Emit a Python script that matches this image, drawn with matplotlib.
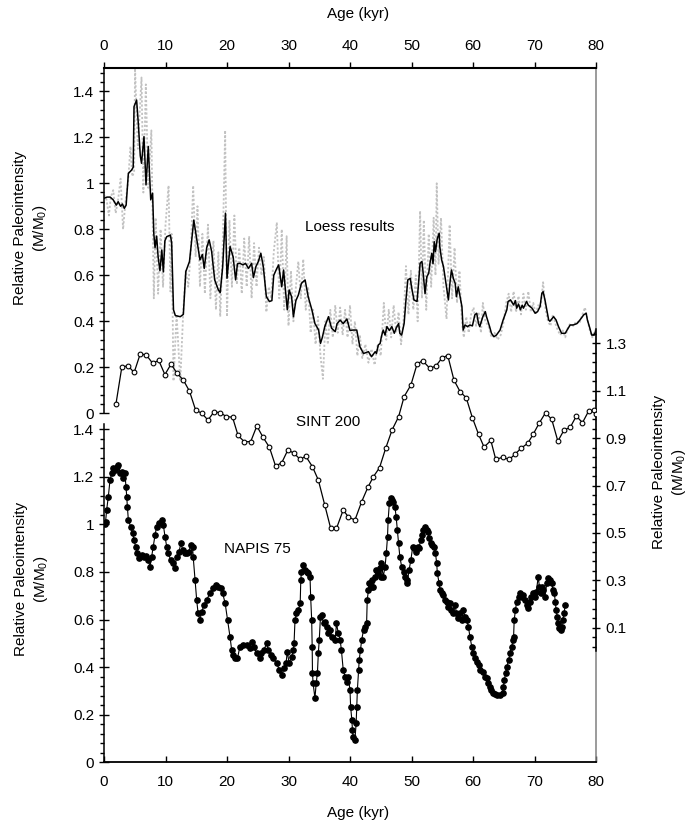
import numpy as np
import matplotlib
matplotlib.use("Agg")
import matplotlib.pyplot as plt
from matplotlib.ticker import FixedLocator, FuncFormatter

plt.rcParams["font.family"] = ["Liberation Sans", "DejaVu Sans"]
plt.rcParams["mathtext.default"] = "regular"

# --- Loess results (smoothed, black line) ---
loess_age = [0.0, 0.5, 1.0, 1.5, 2.0, 2.3, 2.7, 3.0, 3.3, 3.6, 3.96, 4.5, 4.75, 4.88, 5.3, 5.58,
             5.9, 6.1, 6.5, 6.83, 7.2, 7.6, 7.9, 8.1, 8.3, 8.56, 8.8, 9.1, 9.4, 9.65, 9.9, 10.2,
             10.8, 11.0, 11.3, 11.6, 12.4, 12.9, 13.3, 13.9, 14.6, 15.1, 15.6, 16.0, 16.3, 16.7,
             17.1, 17.5, 18.0, 18.6, 18.9, 19.3, 19.75, 20.0, 20.5, 21.0, 21.4, 21.7, 22.1, 22.6,
             23.0, 23.5, 24.0, 24.3, 24.7, 25.1, 25.5, 25.9, 26.4, 26.9, 27.3, 27.6, 28.1, 28.4,
             28.9, 29.2, 29.6, 29.8, 30.1, 30.5, 30.8, 31.2, 31.6, 32.1, 32.7, 33.2, 33.8, 34.3,
             34.9, 35.2, 35.5, 35.9, 36.5, 37.0, 37.6, 37.9, 38.4, 38.9, 39.5, 40.0, 40.5, 41.1,
             41.4, 41.6, 42.2, 43.0, 43.5, 44.1, 44.3, 44.6, 44.9, 45.1, 45.4, 45.7, 46.0, 46.4,
             46.8, 47.2, 47.5, 47.9, 48.1, 48.4, 48.8, 49.1, 49.4, 49.8, 50.0, 50.4, 50.9, 51.1,
             51.4, 51.7, 51.9, 52.2, 52.5, 52.8, 53.0, 53.3, 53.5, 53.7, 53.9, 54.2, 54.5, 54.6,
             54.9, 55.2, 55.6, 56.0, 56.3, 56.5, 56.8, 57.1, 57.3, 57.6, 57.9, 58.2, 58.4, 58.7,
             59.1, 59.5, 59.9, 60.3, 60.6, 60.9, 61.1, 61.6, 62.0, 62.2, 62.7, 63.0, 63.4, 63.8,
             64.4, 64.9, 65.5, 65.7, 66.1, 66.6, 66.9, 67.1, 67.4, 67.7, 68.0, 68.2, 68.5, 68.7,
             69.0, 69.6, 70.1, 70.5, 70.9, 71.2, 71.4, 71.7, 72.0, 72.3, 72.5, 73.1, 73.5, 73.9,
             74.4, 75.0, 75.3, 75.8, 76.3, 76.9, 77.4, 78.0, 78.4, 78.6, 79.0, 79.3, 79.7, 80.0]
loess_val = [0.935, 0.94, 0.94, 0.928, 0.905, 0.92, 0.90, 0.91, 0.891, 0.905, 1.043, 1.058, 1.07,
             1.333, 1.362, 1.26, 1.12, 1.087, 1.203, 0.993, 1.16, 0.928, 0.957, 0.78, 0.72, 0.77,
             0.68, 0.62, 0.71, 0.615, 0.75, 0.768, 0.775, 0.74, 0.45, 0.425, 0.42, 0.43, 0.616,
             0.66, 0.84, 0.754, 0.667, 0.69, 0.63, 0.72, 0.754, 0.704, 0.58, 0.536, 0.525, 0.638,
             0.87, 0.587, 0.725, 0.68, 0.58, 0.65, 0.652, 0.645, 0.652, 0.63, 0.652, 0.59, 0.638,
             0.66, 0.696, 0.638, 0.507, 0.486, 0.49, 0.6, 0.63, 0.645, 0.55, 0.623, 0.507, 0.45,
             0.536, 0.507, 0.42, 0.49, 0.514, 0.565, 0.58, 0.507, 0.45, 0.39, 0.362, 0.304, 0.33,
             0.377, 0.42, 0.37, 0.355, 0.39, 0.405, 0.39, 0.41, 0.36, 0.362, 0.362, 0.319, 0.29,
             0.26, 0.268, 0.246, 0.268, 0.26, 0.297, 0.304, 0.333, 0.362, 0.34, 0.377, 0.36, 0.377,
             0.348, 0.37, 0.39, 0.348, 0.34, 0.39, 0.493, 0.58, 0.587, 0.55, 0.493, 0.486, 0.55,
             0.652, 0.66, 0.609, 0.52, 0.594, 0.609, 0.652, 0.696, 0.65, 0.746, 0.703, 0.761, 0.783,
             0.725, 0.667, 0.638, 0.565, 0.493, 0.58, 0.623, 0.587, 0.565, 0.507, 0.55, 0.507,
             0.464, 0.362, 0.384, 0.377, 0.384, 0.38, 0.428, 0.435, 0.39, 0.377, 0.42, 0.442, 0.42,
             0.377, 0.348, 0.333, 0.34, 0.362, 0.406, 0.45, 0.486, 0.493, 0.471, 0.49, 0.457,
             0.475, 0.45, 0.47, 0.457, 0.475, 0.486, 0.47, 0.457, 0.435, 0.442, 0.464, 0.522,
             0.529, 0.493, 0.45, 0.406, 0.40, 0.42, 0.406, 0.377, 0.348, 0.348, 0.362, 0.384,
             0.384, 0.39, 0.406, 0.428, 0.435, 0.406, 0.37, 0.34, 0.34, 0.36]

# --- Loess raw values (grey dotted) ---
raw_age = [0.0, 0.4, 0.8, 1.1, 1.5, 1.9, 2.3, 2.7, 3.1, 3.5, 3.9, 4.3, 4.6, 4.9, 5.05, 5.5, 6.1,
           6.4, 6.8, 7.2, 7.7, 8.1, 8.4, 8.8, 9.2, 9.6, 10.0, 10.5, 10.8, 11.0, 11.3, 11.8, 12.4,
           12.9, 13.3, 13.7, 14.1, 14.5, 14.9, 15.2, 15.6, 16.0, 16.4, 16.9, 17.3, 17.8, 18.2,
           18.6, 18.9, 19.3, 19.7, 20.0, 20.4, 20.8, 21.2, 21.6, 22.0, 22.4, 22.8, 23.2, 23.6,
           24.0, 24.4, 24.8, 25.2, 25.6, 26.0, 26.4, 26.8, 27.2, 27.6, 28.1, 28.5, 28.9, 29.3,
           29.7, 30.0, 30.4, 30.8, 31.2, 31.6, 32.0, 32.4, 32.8, 33.2, 33.6, 34.0, 34.4, 34.8,
           35.2, 35.6, 36.0, 36.4, 36.8, 37.2, 37.6, 38.0, 38.4, 38.8, 39.2, 39.6, 40.0, 40.4,
           40.8, 41.2, 41.6, 42.0, 42.5, 43.0, 43.5, 44.0, 44.5, 45.0, 45.5, 45.9, 46.3, 46.7,
           47.1, 47.5, 47.9, 48.3, 48.7, 49.1, 49.5, 49.9, 50.3, 50.7, 51.0, 51.4, 51.7, 52.0,
           52.4, 52.8, 53.2, 53.6, 53.9, 54.1, 54.4, 54.8, 55.2, 55.7, 56.2, 56.6, 57.0, 57.4,
           57.8, 58.2, 58.5, 58.9, 59.3, 59.7, 60.1, 60.5, 60.9, 61.3, 61.6, 62.0, 62.5, 63.0,
           63.5, 64.0, 64.5, 65.0, 65.4, 65.8, 66.2, 66.6, 67.0, 67.4, 67.8, 68.2, 68.6, 69.0,
           69.4, 69.8, 70.2, 70.6, 71.0, 71.4, 71.8, 72.2, 72.6, 73.0, 73.4, 73.8, 74.2, 74.6,
           75.0, 75.4, 75.8, 76.3, 76.8, 77.3, 77.8, 78.2, 78.6, 79.0, 79.4, 79.8, 80.0]
raw_val = [0.95, 0.93, 0.86, 0.94, 0.97, 0.87, 0.93, 1.02, 0.80, 0.92, 1.00, 1.16, 1.03, 1.05,
           1.50, 1.15, 1.46, 0.96, 1.43, 0.98, 1.23, 0.50, 0.85, 0.52, 0.80, 0.55, 0.82, 0.99,
           0.53, 0.78, 0.14, 0.43, 0.14, 0.45, 0.62, 0.55, 0.70, 0.99, 0.68, 0.90, 0.55, 0.78,
           0.52, 0.82, 0.50, 0.75, 0.45, 0.70, 0.42, 0.72, 1.23, 0.42, 0.84, 0.55, 0.86, 0.56,
           0.72, 0.52, 0.76, 0.55, 0.77, 0.50, 0.74, 0.55, 0.72, 0.60, 0.68, 0.44, 0.55, 0.50,
           0.70, 0.83, 0.50, 0.80, 0.45, 0.77, 0.38, 0.62, 0.40, 0.55, 0.66, 0.50, 0.67, 0.45,
           0.55, 0.35, 0.45, 0.30, 0.42, 0.25, 0.15, 0.40, 0.30, 0.45, 0.33, 0.47, 0.35, 0.46,
           0.34, 0.45, 0.33, 0.47, 0.30, 0.40, 0.25, 0.34, 0.24, 0.30, 0.22, 0.28, 0.21, 0.30,
           0.25, 0.48, 0.32, 0.45, 0.33, 0.47, 0.35, 0.44, 0.30, 0.40, 0.64, 0.43, 0.62, 0.45,
           0.60, 0.40, 0.88, 0.50, 0.84, 0.45, 0.78, 0.55, 0.85, 0.60, 1.00, 0.65, 0.85, 0.55,
           0.41, 0.82, 0.50, 0.72, 0.48, 0.62, 0.40, 0.33, 0.42, 0.35, 0.43, 0.46, 0.38, 0.44,
           0.35, 0.48, 0.40, 0.38, 0.33, 0.35, 0.32, 0.34, 0.40, 0.48, 0.52, 0.44, 0.53, 0.44,
           0.51, 0.43, 0.52, 0.45, 0.53, 0.44, 0.48, 0.43, 0.47, 0.46, 0.57, 0.45, 0.40, 0.38,
           0.43, 0.39, 0.36, 0.34, 0.36, 0.33, 0.37, 0.39, 0.38, 0.40, 0.39, 0.43, 0.46, 0.41,
           0.36, 0.33, 0.36, 0.35]

# --- SINT 200 (open circles, right axis) ---
sint_age = [1.95, 2.9, 3.9, 4.9, 5.9, 6.9, 7.9, 8.9, 9.9, 10.9, 11.9, 12.9, 13.9, 14.9, 15.9,
            16.9, 17.9, 18.9, 19.9, 20.9, 21.8, 22.8, 23.85, 24.85, 25.85, 26.9, 27.9, 28.9,
            29.9, 30.9, 31.9, 32.8, 33.9, 34.85, 35.9, 36.86, 37.8, 38.9, 39.7, 40.8, 41.9,
            42.9, 43.8, 44.8, 45.8, 46.85, 47.9, 48.8, 49.9, 50.9, 51.8, 53.0, 54.0, 55.0, 55.9,
            56.9, 57.9, 58.9, 59.9, 60.9, 61.8, 62.9, 63.7, 64.8, 65.9, 66.8, 67.8, 68.9, 69.8,
            70.8, 71.8, 72.8, 73.8, 74.8, 75.8, 76.8, 77.8, 78.8, 79.7, 80.0]
sint_val = [1.045, 1.2, 1.205, 1.177, 1.256, 1.25, 1.216, 1.228, 1.168, 1.212, 1.173, 1.145,
            1.098, 1.018, 1.005, 0.976, 1.011, 1.007, 0.991, 0.988, 0.911, 0.885, 0.885, 0.951,
            0.904, 0.861, 0.782, 0.796, 0.85, 0.836, 0.81, 0.824, 0.779, 0.723, 0.617, 0.519,
            0.519, 0.597, 0.568, 0.554, 0.632, 0.692, 0.737, 0.775, 0.857, 0.935, 0.99, 1.075,
            1.124, 1.212, 1.227, 1.194, 1.205, 1.24, 1.248, 1.145, 1.096, 1.07, 0.986, 0.916,
            0.862, 0.89, 0.81, 0.819, 0.81, 0.831, 0.857, 0.878, 0.917, 0.965, 1.007, 0.979,
            0.887, 0.934, 0.945, 0.993, 0.965, 1.014, 1.018, 1.0]

# --- NAPIS 75 (filled circles, lower left axis) ---
napis_age = [0.1, 0.25, 0.43, 0.7, 0.98, 1.25, 1.5, 1.8, 2.06, 2.33, 2.6, 2.87, 3.14, 3.4, 3.58,
             3.7, 3.8, 3.96, 4.34, 4.66, 4.88, 5.15, 5.42, 5.75, 6.12, 6.5, 6.83, 7.2, 7.48, 7.75,
             8.0, 8.3, 8.56, 9.0, 9.38, 9.65, 9.92, 10.2, 10.46, 10.84, 11.27, 11.5, 11.8, 12.2,
             12.5, 12.8, 13.2, 13.55, 13.8, 14.1, 14.4, 14.5, 14.8, 15.07, 15.3, 15.6, 15.9,
             16.26, 16.7, 17.2, 17.8, 18.2, 18.6, 18.97, 19.3, 19.7, 20.1, 20.5, 20.76, 21.0,
             21.3, 21.7, 22.1, 22.66, 23.2, 23.7, 24.0, 24.4, 24.8, 25.3, 25.6, 26.0, 26.45,
             26.7, 27.1, 27.5, 28.1, 28.5, 28.9, 29.3, 29.6, 29.8, 30.1, 30.5, 30.8, 30.9, 31.06,
             31.3, 31.6, 31.9, 32.0, 32.1, 32.4, 32.7, 32.95, 33.2, 33.5, 33.6, 33.77, 33.85,
             33.9, 34.0, 34.3, 34.5, 34.7, 34.85, 35.0, 35.2, 35.4, 35.7, 35.9, 36.2, 36.5, 36.7,
             37.0, 37.6, 37.8, 38.1, 38.4, 38.6, 38.9, 39.2, 39.5, 39.7, 40.0, 40.1, 40.3, 40.4,
             40.5, 40.8, 41.0, 41.1, 41.2, 41.4, 41.5, 41.7, 41.9, 42.2, 42.4, 42.7, 42.8, 43.0,
             43.1, 43.4, 43.6, 43.8, 44.1, 44.3, 44.6, 44.8, 45.0, 45.1, 45.4, 45.7, 45.9, 46.1,
             46.2, 46.4, 46.6, 46.8, 47.0, 47.3, 47.5, 47.7, 47.9, 48.1, 48.4, 48.7, 49.0, 49.2,
             49.3, 49.6, 49.9, 50.2, 50.4, 50.7, 51.0, 51.2, 51.5, 51.7, 51.9, 52.2, 52.5, 52.7,
             52.9, 53.1, 53.4, 53.7, 53.9, 54.1, 54.2, 54.5, 54.6, 54.9, 55.2, 55.4, 55.7, 56.0,
             56.3, 56.5, 56.8, 57.1, 57.3, 57.6, 57.9, 58.2, 58.4, 58.7, 59.0, 59.25, 59.5, 59.8,
             60.05, 60.3, 60.6, 60.9, 61.1, 61.6, 62.0, 62.2, 62.5, 62.8, 63.0, 63.3, 63.6,
             63.95, 64.4, 64.8, 64.95, 65.1, 65.3, 65.5, 65.8, 66.0, 66.3, 66.5, 66.6, 66.7,
             66.9, 67.1, 67.4, 67.7, 68.0, 68.2, 68.5, 68.7, 69.0, 69.3, 69.5, 69.8, 70.1, 70.3,
             70.6, 70.8, 71.0, 71.2, 71.4, 71.7, 72.0, 72.25, 72.5, 72.8, 73.0, 73.2, 73.4, 73.5,
             73.7, 73.9, 74.05, 74.3, 74.4, 74.6, 74.8, 75.0]
napis_val = [1.0, 1.01, 1.06, 1.116, 1.186, 1.214, 1.235, 1.228, 1.242, 1.249, 1.214, 1.221,
             1.193, 1.214, 1.158, 1.116, 1.074, 1.018, 0.99, 0.962, 0.934, 0.906, 0.878, 0.857,
             0.871, 0.864, 0.867, 0.85, 0.822, 0.864, 0.906, 0.955, 0.99, 1.004, 1.018, 0.997,
             0.948, 0.906, 0.878, 0.85, 0.836, 0.815, 0.864, 0.885, 0.92, 0.892, 0.878, 0.878,
             0.885, 0.913, 0.906, 0.864, 0.766, 0.682, 0.626, 0.598, 0.633, 0.661, 0.682, 0.71,
             0.731, 0.745, 0.738, 0.731, 0.71, 0.668, 0.598, 0.525, 0.472, 0.45, 0.437, 0.437,
             0.486, 0.493, 0.493, 0.479, 0.507, 0.486, 0.458, 0.437, 0.458, 0.472, 0.5, 0.472,
             0.45, 0.437, 0.416, 0.388, 0.366, 0.395, 0.416, 0.465, 0.416, 0.444, 0.472, 0.5,
             0.598, 0.626, 0.64, 0.668, 0.766, 0.8, 0.829, 0.808, 0.8, 0.794, 0.78, 0.696, 0.598,
             0.486, 0.374, 0.332, 0.269, 0.332, 0.374, 0.458, 0.514, 0.612, 0.619, 0.584, 0.591,
             0.57, 0.542, 0.556, 0.528, 0.514, 0.584, 0.542, 0.514, 0.472, 0.388, 0.36, 0.339,
             0.36, 0.304, 0.234, 0.178, 0.136, 0.108, 0.094, 0.164, 0.234, 0.304, 0.388, 0.43,
             0.472, 0.514, 0.556, 0.57, 0.584, 0.682, 0.724, 0.752, 0.738, 0.766, 0.738, 0.78,
             0.808, 0.794, 0.815, 0.78, 0.836, 0.78, 0.822, 0.878, 0.948, 1.018, 1.088, 1.109,
             1.102, 1.095, 1.074, 1.032, 0.976, 0.92, 0.864, 0.822, 0.8, 0.78, 0.766, 0.752,
             0.808, 0.85, 0.906, 0.899, 0.885, 0.906, 0.899, 0.934, 0.955, 0.976, 0.99, 0.976,
             0.969, 0.941, 0.92, 0.913, 0.906, 0.878, 0.836, 0.794, 0.752, 0.724, 0.71, 0.703,
             0.682, 0.675, 0.654, 0.668, 0.64, 0.626, 0.661, 0.626, 0.605, 0.626, 0.598, 0.64,
             0.612, 0.598, 0.57, 0.528, 0.486, 0.458, 0.437, 0.423, 0.409, 0.388, 0.381, 0.36,
             0.353, 0.332, 0.318, 0.304, 0.292, 0.285, 0.283, 0.283, 0.29, 0.318, 0.346, 0.374,
             0.402, 0.43, 0.458, 0.486, 0.514, 0.528, 0.598, 0.64, 0.675, 0.696, 0.71, 0.696,
             0.703, 0.682, 0.661, 0.647, 0.675, 0.696, 0.71, 0.696, 0.717, 0.78, 0.738, 0.71,
             0.738, 0.724, 0.696, 0.752, 0.773, 0.766, 0.752, 0.724, 0.71, 0.675, 0.64, 0.612,
             0.584, 0.563, 0.556, 0.57, 0.598, 0.626, 0.661]

age_ticks = [0, 10, 20, 30, 40, 50, 60, 70, 80]
left_ticks = [0, 0.2, 0.4, 0.6, 0.8, 1.0, 1.2, 1.4]
right_ticks = [0.1, 0.3, 0.5, 0.7, 0.9, 1.1, 1.3]

FS = 11
W, H = 691, 827
fig = plt.figure(figsize=(W / 100, H / 100), dpi=100)
# plot frame in pixels: x 104..596, y 67.7..762.3
rect = [104 / W, 1 - 762.3 / H, 492 / W, 694.6 / H]

fmt = FuncFormatter(lambda v, p: f"{v:g}")

# lower axes: NAPIS 75 + bottom age axis
axN = fig.add_axes(rect)
axN.set_xlim(0, 80)
axN.set_ylim(0, 2.9185)
axN.spines["top"].set_visible(False)
axN.spines["right"].set_color("#808080")
axN.spines["right"].set_linewidth(1.1)
axN.spines["left"].set_bounds(0, 1.42)
axN.spines["left"].set_linewidth(1.1)
axN.spines["bottom"].set_linewidth(1.3)
axN.set_xticks(age_ticks)
axN.tick_params(axis="x", direction="in", length=4.5, width=1, pad=9, labelsize=FS)
axN.yaxis.set_major_locator(FixedLocator(left_ticks))
axN.yaxis.set_minor_locator(FixedLocator(np.arange(0, 1.41, 0.04)))
axN.yaxis.set_major_formatter(fmt)
axN.tick_params(axis="y", which="major", direction="inout", length=7, width=1, pad=3.5, labelsize=FS)
axN.tick_params(axis="y", which="minor", direction="out", length=3, width=1)
axN.plot(napis_age, napis_val, "-o", color="black", lw=0.8, ms=3.8, mfc="black", mec="black", zorder=3)

# upper axes: Loess results + top age axis
axL = fig.add_axes(rect, facecolor="none")
axL.set_xlim(0, 80)
axL.set_ylim(-1.5174, 1.5026)
for s in ["bottom", "right"]:
    axL.spines[s].set_visible(False)
axL.spines["top"].set_linewidth(1.5)
axL.spines["left"].set_bounds(0, 1.5026)
axL.spines["left"].set_linewidth(1.1)
axL.xaxis.tick_top()
axL.set_xticks(age_ticks)
axL.tick_params(axis="x", direction="out", length=4.5, width=1, pad=6, labelsize=FS)
axL.yaxis.set_major_locator(FixedLocator(left_ticks))
axL.yaxis.set_minor_locator(FixedLocator(np.arange(0, 1.49, 0.04)))
axL.yaxis.set_major_formatter(fmt)
axL.tick_params(axis="y", which="major", direction="inout", length=7, width=1, pad=3.5, labelsize=FS)
axL.tick_params(axis="y", which="minor", direction="out", length=3, width=1)
axL.plot(raw_age, raw_val, color="#c2c2c2", lw=1.3, ls=(0, (1.2, 1.1)), zorder=2)
axL.plot(loess_age, loess_val, color="black", lw=1.1, zorder=3)

# right axes: SINT 200
axS = fig.add_axes(rect, facecolor="none")
axS.set_xlim(0, 80)
axS.set_ylim(-0.468, 2.463)
for s in ["top", "bottom", "left"]:
    axS.spines[s].set_visible(False)
axS.spines["right"].set_bounds(0.0, 1.36)
axS.spines["right"].set_linewidth(1.1)
axS.set_xticks([])
axS.yaxis.tick_right()
axS.yaxis.set_major_locator(FixedLocator(right_ticks))
axS.yaxis.set_minor_locator(FixedLocator(np.arange(0.02, 1.36, 0.04)))
axS.yaxis.set_major_formatter(fmt)
axS.tick_params(axis="y", which="major", direction="inout", length=6, width=1, pad=4, labelsize=FS)
axS.tick_params(axis="y", which="minor", direction="in", length=3, width=1)
axS.plot(sint_age, sint_val, "-o", color="black", lw=0.9, ms=3.4, mfc="white", mec="black", mew=0.8, zorder=3)

# text labels
axL.text(40.0, 0.81, "Loess results", ha="center", va="center", fontsize=FS)
axS.text(36.4, 0.966, "SINT 200", ha="center", va="center", fontsize=FS)
axN.text(24.96, 0.895, "NAPIS 75", ha="center", va="center", fontsize=FS)

ylab = "Relative Paleointensity\n(M/M$_0$)"
fig.text(31 / W, 1 - 228 / H, ylab, rotation=90, ha="center", va="center", fontsize=FS, linespacing=1.3)
fig.text(32 / W, 1 - 579 / H, ylab, rotation=90, ha="center", va="center", fontsize=FS, linespacing=1.3)
fig.text(670 / W, 1 - 472 / H, ylab, rotation=90, ha="center", va="center", fontsize=FS, linespacing=1.3)
fig.text(358 / W, 1 - 14 / H, "Age (kyr)", ha="center", va="center", fontsize=FS)
fig.text(358 / W, 1 - 813 / H, "Age (kyr)", ha="center", va="center", fontsize=FS)

fig.savefig("out.png", dpi=100)
